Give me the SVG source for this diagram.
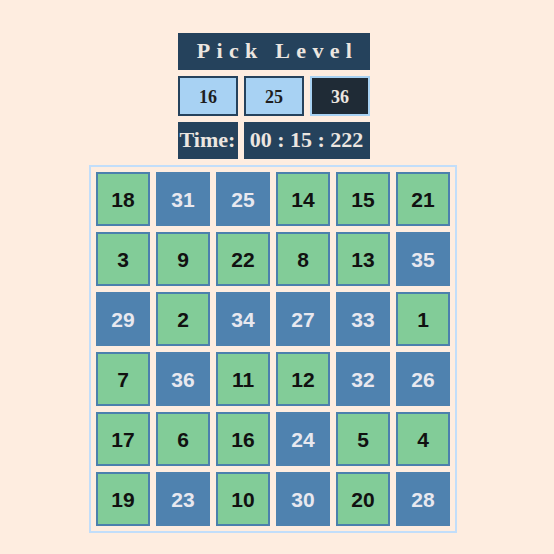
<svg xmlns="http://www.w3.org/2000/svg" width="554" height="554" viewBox="0 0 554 554">
<style>
.hdr{fill:#25425c}
.st{font-family:"Liberation Serif",serif;font-weight:bold;fill:#ece6e0;text-anchor:middle}
.lv{font-family:"Liberation Serif",serif;font-weight:bold;font-size:18px;text-anchor:middle}
.g rect{fill:#82cc98;stroke:#4b80ad;stroke-width:2}
.b rect{fill:#4f82af;stroke:#4f82af;stroke-width:2}
.c text{font-family:"Liberation Sans",Arial,sans-serif;font-weight:bold;font-size:21px;text-anchor:middle}
.g text{fill:#111}
.b text{fill:#e8e8ef}
</style>
<rect width="554" height="554" fill="#feede0"/>
<g id="title"><rect class="hdr" x="178" y="33" width="192" height="37"/><text class="st" x="277.5" y="58" font-size="22" letter-spacing="6.3">Pick Level</text></g>
<g id="lvl16"><rect x="179" y="77" width="58" height="38" fill="#a8d2f3" stroke="#25425c" stroke-width="2"/><text class="lv" x="208" y="103" fill="#1e1e1e">16</text></g>
<g id="lvl25"><rect x="245" y="77" width="58" height="38" fill="#a8d2f3" stroke="#25425c" stroke-width="2"/><text class="lv" x="274" y="103" fill="#1e1e1e">25</text></g>
<g id="lvl36"><rect x="311" y="77" width="58" height="38" fill="#1f2b36" stroke="#a8d2f3" stroke-width="2"/><text class="lv" x="340" y="103" fill="#ece6e0">36</text></g>
<g id="timeLabel"><rect class="hdr" x="178" y="122" width="60" height="37"/><text class="st" x="207.5" y="147" font-size="22">Time:</text></g>
<g id="timeValue"><rect class="hdr" x="244" y="122" width="126" height="37"/><text class="st" x="306.5" y="147" font-size="22">00 : 15 : 222</text></g>
<rect id="board" x="90" y="166" width="366" height="366" fill="none" stroke="#c2defa" stroke-width="2"/>
<g id="cells">
<g class="c g"><rect x="97" y="173" width="52" height="52"/><text x="123" y="207">18</text></g>
<g class="c b"><rect x="157" y="173" width="52" height="52"/><text x="183" y="207">31</text></g>
<g class="c b"><rect x="217" y="173" width="52" height="52"/><text x="243" y="207">25</text></g>
<g class="c g"><rect x="277" y="173" width="52" height="52"/><text x="303" y="207">14</text></g>
<g class="c g"><rect x="337" y="173" width="52" height="52"/><text x="363" y="207">15</text></g>
<g class="c g"><rect x="397" y="173" width="52" height="52"/><text x="423" y="207">21</text></g>

<g class="c g"><rect x="97" y="233" width="52" height="52"/><text x="123" y="267">3</text></g>
<g class="c g"><rect x="157" y="233" width="52" height="52"/><text x="183" y="267">9</text></g>
<g class="c g"><rect x="217" y="233" width="52" height="52"/><text x="243" y="267">22</text></g>
<g class="c g"><rect x="277" y="233" width="52" height="52"/><text x="303" y="267">8</text></g>
<g class="c g"><rect x="337" y="233" width="52" height="52"/><text x="363" y="267">13</text></g>
<g class="c b"><rect x="397" y="233" width="52" height="52"/><text x="423" y="267">35</text></g>

<g class="c b"><rect x="97" y="293" width="52" height="52"/><text x="123" y="327">29</text></g>
<g class="c g"><rect x="157" y="293" width="52" height="52"/><text x="183" y="327">2</text></g>
<g class="c b"><rect x="217" y="293" width="52" height="52"/><text x="243" y="327">34</text></g>
<g class="c b"><rect x="277" y="293" width="52" height="52"/><text x="303" y="327">27</text></g>
<g class="c b"><rect x="337" y="293" width="52" height="52"/><text x="363" y="327">33</text></g>
<g class="c g"><rect x="397" y="293" width="52" height="52"/><text x="423" y="327">1</text></g>

<g class="c g"><rect x="97" y="353" width="52" height="52"/><text x="123" y="387">7</text></g>
<g class="c b"><rect x="157" y="353" width="52" height="52"/><text x="183" y="387">36</text></g>
<g class="c g"><rect x="217" y="353" width="52" height="52"/><text x="243" y="387">11</text></g>
<g class="c g"><rect x="277" y="353" width="52" height="52"/><text x="303" y="387">12</text></g>
<g class="c b"><rect x="337" y="353" width="52" height="52"/><text x="363" y="387">32</text></g>
<g class="c b"><rect x="397" y="353" width="52" height="52"/><text x="423" y="387">26</text></g>

<g class="c g"><rect x="97" y="413" width="52" height="52"/><text x="123" y="447">17</text></g>
<g class="c g"><rect x="157" y="413" width="52" height="52"/><text x="183" y="447">6</text></g>
<g class="c g"><rect x="217" y="413" width="52" height="52"/><text x="243" y="447">16</text></g>
<g class="c b"><rect x="277" y="413" width="52" height="52"/><text x="303" y="447">24</text></g>
<g class="c g"><rect x="337" y="413" width="52" height="52"/><text x="363" y="447">5</text></g>
<g class="c g"><rect x="397" y="413" width="52" height="52"/><text x="423" y="447">4</text></g>

<g class="c g"><rect x="97" y="473" width="52" height="52"/><text x="123" y="507">19</text></g>
<g class="c b"><rect x="157" y="473" width="52" height="52"/><text x="183" y="507">23</text></g>
<g class="c g"><rect x="217" y="473" width="52" height="52"/><text x="243" y="507">10</text></g>
<g class="c b"><rect x="277" y="473" width="52" height="52"/><text x="303" y="507">30</text></g>
<g class="c g"><rect x="337" y="473" width="52" height="52"/><text x="363" y="507">20</text></g>
<g class="c b"><rect x="397" y="473" width="52" height="52"/><text x="423" y="507">28</text></g>
</g>
</svg>
